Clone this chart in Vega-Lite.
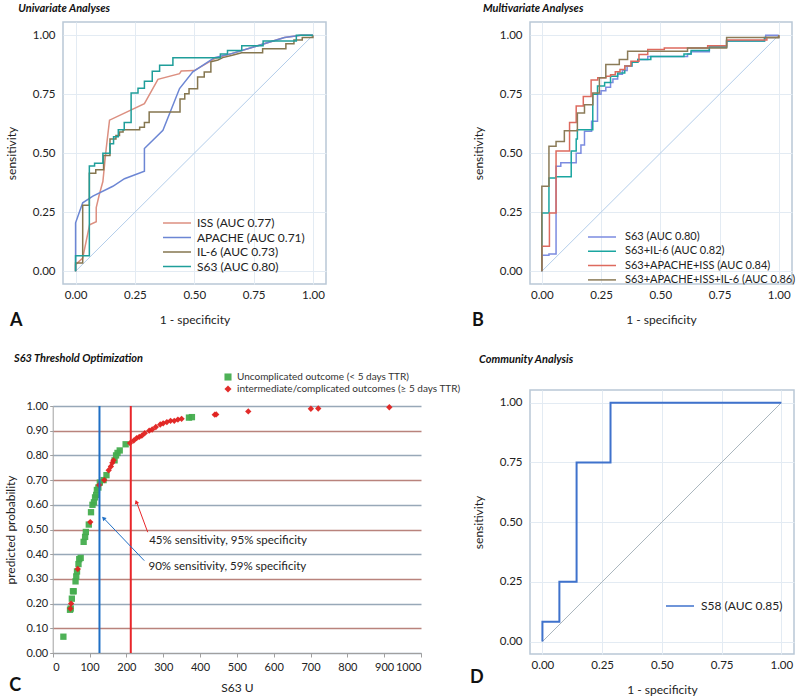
{
  "$schema": "https://vega.github.io/schema/vega-lite/v6.json",
  "padding": {"left": 4, "top": 2, "right": 0, "bottom": 0},
  "config": {
    "font": "Lato",
    "view": {"stroke": "#b9c8d6", "strokeWidth": 1.5},
    "axis": {"labelFont": "Lato", "labelFontSize": 11.5, "labelColor": "#222", "titleFont": "Lato", "titleFontSize": 12, "titleFontWeight": "normal", "titleColor": "#222", "gridColor": "#e3ebf3", "domain": false, "ticks": false},
    "title": {"font": "Lato", "fontSize": 11, "fontWeight": "bold", "fontStyle": "italic", "anchor": "start", "color": "#111", "offset": 8},
    "legend": {"labelFont": "Lato", "labelFontSize": 12, "labelColor": "#222", "labelLimit": 400}
  },
  "datasets": {
    "uni": [
      {"s": "ISS (AUC 0.77)", "x": 0, "y": 0}, {"s": "ISS (AUC 0.77)", "x": 0, "y": 0.028}, {"s": "ISS (AUC 0.77)", "x": 0.03, "y": 0.056}, {"s": "ISS (AUC 0.77)", "x": 0.059, "y": 0.197}, {"s": "ISS (AUC 0.77)", "x": 0.087, "y": 0.21}, {"s": "ISS (AUC 0.77)", "x": 0.087, "y": 0.27}, {"s": "ISS (AUC 0.77)", "x": 0.1, "y": 0.325}, {"s": "ISS (AUC 0.77)", "x": 0.115, "y": 0.38}, {"s": "ISS (AUC 0.77)", "x": 0.122, "y": 0.45}, {"s": "ISS (AUC 0.77)", "x": 0.129, "y": 0.52}, {"s": "ISS (AUC 0.77)", "x": 0.143, "y": 0.64}, {"s": "ISS (AUC 0.77)", "x": 0.29, "y": 0.71}, {"s": "ISS (AUC 0.77)", "x": 0.347, "y": 0.813}, {"s": "ISS (AUC 0.77)", "x": 0.438, "y": 0.837}, {"s": "ISS (AUC 0.77)", "x": 0.445, "y": 0.848}, {"s": "ISS (AUC 0.77)", "x": 0.5, "y": 0.85}, {"s": "ISS (AUC 0.77)", "x": 0.585, "y": 0.9}, {"s": "ISS (AUC 0.77)", "x": 0.65, "y": 0.92}, {"s": "ISS (AUC 0.77)", "x": 0.75, "y": 0.95}, {"s": "ISS (AUC 0.77)", "x": 0.88, "y": 0.99}, {"s": "ISS (AUC 0.77)", "x": 0.95, "y": 1}, {"s": "ISS (AUC 0.77)", "x": 1, "y": 1},
      {"s": "APACHE (AUC 0.71)", "x": 0, "y": 0}, {"s": "APACHE (AUC 0.71)", "x": 0, "y": 0.205}, {"s": "APACHE (AUC 0.71)", "x": 0.03, "y": 0.29}, {"s": "APACHE (AUC 0.71)", "x": 0.073, "y": 0.318}, {"s": "APACHE (AUC 0.71)", "x": 0.157, "y": 0.36}, {"s": "APACHE (AUC 0.71)", "x": 0.206, "y": 0.392}, {"s": "APACHE (AUC 0.71)", "x": 0.29, "y": 0.424}, {"s": "APACHE (AUC 0.71)", "x": 0.29, "y": 0.52}, {"s": "APACHE (AUC 0.71)", "x": 0.368, "y": 0.597}, {"s": "APACHE (AUC 0.71)", "x": 0.438, "y": 0.774}, {"s": "APACHE (AUC 0.71)", "x": 0.494, "y": 0.845}, {"s": "APACHE (AUC 0.71)", "x": 0.585, "y": 0.905}, {"s": "APACHE (AUC 0.71)", "x": 0.65, "y": 0.92}, {"s": "APACHE (AUC 0.71)", "x": 0.75, "y": 0.95}, {"s": "APACHE (AUC 0.71)", "x": 0.88, "y": 0.99}, {"s": "APACHE (AUC 0.71)", "x": 0.95, "y": 1}, {"s": "APACHE (AUC 0.71)", "x": 1, "y": 1},
      {"s": "IL-6 (AUC 0.73)", "x": 0, "y": 0}, {"s": "IL-6 (AUC 0.73)", "x": 0, "y": 0.035}, {"s": "IL-6 (AUC 0.73)", "x": 0.03, "y": 0.035}, {"s": "IL-6 (AUC 0.73)", "x": 0.03, "y": 0.28}, {"s": "IL-6 (AUC 0.73)", "x": 0.058, "y": 0.28}, {"s": "IL-6 (AUC 0.73)", "x": 0.058, "y": 0.415}, {"s": "IL-6 (AUC 0.73)", "x": 0.085, "y": 0.415}, {"s": "IL-6 (AUC 0.73)", "x": 0.085, "y": 0.43}, {"s": "IL-6 (AUC 0.73)", "x": 0.118, "y": 0.43}, {"s": "IL-6 (AUC 0.73)", "x": 0.118, "y": 0.49}, {"s": "IL-6 (AUC 0.73)", "x": 0.145, "y": 0.49}, {"s": "IL-6 (AUC 0.73)", "x": 0.145, "y": 0.56}, {"s": "IL-6 (AUC 0.73)", "x": 0.17, "y": 0.56}, {"s": "IL-6 (AUC 0.73)", "x": 0.17, "y": 0.575}, {"s": "IL-6 (AUC 0.73)", "x": 0.185, "y": 0.575}, {"s": "IL-6 (AUC 0.73)", "x": 0.185, "y": 0.59}, {"s": "IL-6 (AUC 0.73)", "x": 0.2, "y": 0.59}, {"s": "IL-6 (AUC 0.73)", "x": 0.2, "y": 0.6}, {"s": "IL-6 (AUC 0.73)", "x": 0.27, "y": 0.6}, {"s": "IL-6 (AUC 0.73)", "x": 0.27, "y": 0.61}, {"s": "IL-6 (AUC 0.73)", "x": 0.29, "y": 0.61}, {"s": "IL-6 (AUC 0.73)", "x": 0.29, "y": 0.63}, {"s": "IL-6 (AUC 0.73)", "x": 0.31, "y": 0.63}, {"s": "IL-6 (AUC 0.73)", "x": 0.31, "y": 0.675}, {"s": "IL-6 (AUC 0.73)", "x": 0.44, "y": 0.675}, {"s": "IL-6 (AUC 0.73)", "x": 0.44, "y": 0.73}, {"s": "IL-6 (AUC 0.73)", "x": 0.46, "y": 0.73}, {"s": "IL-6 (AUC 0.73)", "x": 0.46, "y": 0.752}, {"s": "IL-6 (AUC 0.73)", "x": 0.478, "y": 0.752}, {"s": "IL-6 (AUC 0.73)", "x": 0.478, "y": 0.773}, {"s": "IL-6 (AUC 0.73)", "x": 0.514, "y": 0.773}, {"s": "IL-6 (AUC 0.73)", "x": 0.514, "y": 0.823}, {"s": "IL-6 (AUC 0.73)", "x": 0.542, "y": 0.823}, {"s": "IL-6 (AUC 0.73)", "x": 0.542, "y": 0.844}, {"s": "IL-6 (AUC 0.73)", "x": 0.57, "y": 0.844}, {"s": "IL-6 (AUC 0.73)", "x": 0.57, "y": 0.887}, {"s": "IL-6 (AUC 0.73)", "x": 0.6, "y": 0.895}, {"s": "IL-6 (AUC 0.73)", "x": 0.62, "y": 0.905}, {"s": "IL-6 (AUC 0.73)", "x": 0.66, "y": 0.915}, {"s": "IL-6 (AUC 0.73)", "x": 0.7, "y": 0.926}, {"s": "IL-6 (AUC 0.73)", "x": 0.788, "y": 0.926}, {"s": "IL-6 (AUC 0.73)", "x": 0.788, "y": 0.943}, {"s": "IL-6 (AUC 0.73)", "x": 0.886, "y": 0.943}, {"s": "IL-6 (AUC 0.73)", "x": 0.886, "y": 0.964}, {"s": "IL-6 (AUC 0.73)", "x": 0.92, "y": 0.964}, {"s": "IL-6 (AUC 0.73)", "x": 0.92, "y": 0.98}, {"s": "IL-6 (AUC 0.73)", "x": 0.955, "y": 0.98}, {"s": "IL-6 (AUC 0.73)", "x": 0.955, "y": 0.99}, {"s": "IL-6 (AUC 0.73)", "x": 1, "y": 0.99}, {"s": "IL-6 (AUC 0.73)", "x": 1, "y": 1},
      {"s": "S63 (AUC 0.80)", "x": 0, "y": 0}, {"s": "S63 (AUC 0.80)", "x": 0, "y": 0.066}, {"s": "S63 (AUC 0.80)", "x": 0.058, "y": 0.066}, {"s": "S63 (AUC 0.80)", "x": 0.058, "y": 0.446}, {"s": "S63 (AUC 0.80)", "x": 0.08, "y": 0.446}, {"s": "S63 (AUC 0.80)", "x": 0.08, "y": 0.458}, {"s": "S63 (AUC 0.80)", "x": 0.115, "y": 0.458}, {"s": "S63 (AUC 0.80)", "x": 0.115, "y": 0.5}, {"s": "S63 (AUC 0.80)", "x": 0.145, "y": 0.5}, {"s": "S63 (AUC 0.80)", "x": 0.145, "y": 0.54}, {"s": "S63 (AUC 0.80)", "x": 0.16, "y": 0.54}, {"s": "S63 (AUC 0.80)", "x": 0.16, "y": 0.57}, {"s": "S63 (AUC 0.80)", "x": 0.18, "y": 0.57}, {"s": "S63 (AUC 0.80)", "x": 0.18, "y": 0.6}, {"s": "S63 (AUC 0.80)", "x": 0.205, "y": 0.6}, {"s": "S63 (AUC 0.80)", "x": 0.205, "y": 0.63}, {"s": "S63 (AUC 0.80)", "x": 0.234, "y": 0.63}, {"s": "S63 (AUC 0.80)", "x": 0.234, "y": 0.755}, {"s": "S63 (AUC 0.80)", "x": 0.263, "y": 0.755}, {"s": "S63 (AUC 0.80)", "x": 0.263, "y": 0.775}, {"s": "S63 (AUC 0.80)", "x": 0.29, "y": 0.775}, {"s": "S63 (AUC 0.80)", "x": 0.29, "y": 0.805}, {"s": "S63 (AUC 0.80)", "x": 0.323, "y": 0.805}, {"s": "S63 (AUC 0.80)", "x": 0.323, "y": 0.847}, {"s": "S63 (AUC 0.80)", "x": 0.354, "y": 0.847}, {"s": "S63 (AUC 0.80)", "x": 0.354, "y": 0.873}, {"s": "S63 (AUC 0.80)", "x": 0.41, "y": 0.873}, {"s": "S63 (AUC 0.80)", "x": 0.41, "y": 0.905}, {"s": "S63 (AUC 0.80)", "x": 0.61, "y": 0.905}, {"s": "S63 (AUC 0.80)", "x": 0.61, "y": 0.92}, {"s": "S63 (AUC 0.80)", "x": 0.64, "y": 0.92}, {"s": "S63 (AUC 0.80)", "x": 0.64, "y": 0.935}, {"s": "S63 (AUC 0.80)", "x": 0.7, "y": 0.935}, {"s": "S63 (AUC 0.80)", "x": 0.7, "y": 0.955}, {"s": "S63 (AUC 0.80)", "x": 0.79, "y": 0.955}, {"s": "S63 (AUC 0.80)", "x": 0.79, "y": 0.975}, {"s": "S63 (AUC 0.80)", "x": 0.93, "y": 0.975}, {"s": "S63 (AUC 0.80)", "x": 0.93, "y": 1}, {"s": "S63 (AUC 0.80)", "x": 1, "y": 1}
    ],
    "multi": [
      {"s": "S63 (AUC 0.80)", "x": 0, "y": 0}, {"s": "S63 (AUC 0.80)", "x": 0, "y": 0.068}, {"s": "S63 (AUC 0.80)", "x": 0.03, "y": 0.068}, {"s": "S63 (AUC 0.80)", "x": 0.03, "y": 0.073}, {"s": "S63 (AUC 0.80)", "x": 0.06, "y": 0.073}, {"s": "S63 (AUC 0.80)", "x": 0.06, "y": 0.445}, {"s": "S63 (AUC 0.80)", "x": 0.08, "y": 0.445}, {"s": "S63 (AUC 0.80)", "x": 0.08, "y": 0.46}, {"s": "S63 (AUC 0.80)", "x": 0.145, "y": 0.46}, {"s": "S63 (AUC 0.80)", "x": 0.145, "y": 0.5}, {"s": "S63 (AUC 0.80)", "x": 0.165, "y": 0.5}, {"s": "S63 (AUC 0.80)", "x": 0.165, "y": 0.535}, {"s": "S63 (AUC 0.80)", "x": 0.18, "y": 0.535}, {"s": "S63 (AUC 0.80)", "x": 0.18, "y": 0.593}, {"s": "S63 (AUC 0.80)", "x": 0.21, "y": 0.593}, {"s": "S63 (AUC 0.80)", "x": 0.21, "y": 0.635}, {"s": "S63 (AUC 0.80)", "x": 0.235, "y": 0.635}, {"s": "S63 (AUC 0.80)", "x": 0.235, "y": 0.75}, {"s": "S63 (AUC 0.80)", "x": 0.25, "y": 0.75}, {"s": "S63 (AUC 0.80)", "x": 0.25, "y": 0.765}, {"s": "S63 (AUC 0.80)", "x": 0.27, "y": 0.765}, {"s": "S63 (AUC 0.80)", "x": 0.27, "y": 0.78}, {"s": "S63 (AUC 0.80)", "x": 0.29, "y": 0.78}, {"s": "S63 (AUC 0.80)", "x": 0.29, "y": 0.8}, {"s": "S63 (AUC 0.80)", "x": 0.3, "y": 0.8}, {"s": "S63 (AUC 0.80)", "x": 0.3, "y": 0.815}, {"s": "S63 (AUC 0.80)", "x": 0.32, "y": 0.815}, {"s": "S63 (AUC 0.80)", "x": 0.32, "y": 0.835}, {"s": "S63 (AUC 0.80)", "x": 0.34, "y": 0.835}, {"s": "S63 (AUC 0.80)", "x": 0.34, "y": 0.85}, {"s": "S63 (AUC 0.80)", "x": 0.36, "y": 0.85}, {"s": "S63 (AUC 0.80)", "x": 0.36, "y": 0.87}, {"s": "S63 (AUC 0.80)", "x": 0.38, "y": 0.87}, {"s": "S63 (AUC 0.80)", "x": 0.38, "y": 0.885}, {"s": "S63 (AUC 0.80)", "x": 0.405, "y": 0.885}, {"s": "S63 (AUC 0.80)", "x": 0.405, "y": 0.897}, {"s": "S63 (AUC 0.80)", "x": 0.447, "y": 0.897}, {"s": "S63 (AUC 0.80)", "x": 0.447, "y": 0.91}, {"s": "S63 (AUC 0.80)", "x": 0.615, "y": 0.91}, {"s": "S63 (AUC 0.80)", "x": 0.615, "y": 0.92}, {"s": "S63 (AUC 0.80)", "x": 0.63, "y": 0.92}, {"s": "S63 (AUC 0.80)", "x": 0.63, "y": 0.93}, {"s": "S63 (AUC 0.80)", "x": 0.707, "y": 0.93}, {"s": "S63 (AUC 0.80)", "x": 0.707, "y": 0.95}, {"s": "S63 (AUC 0.80)", "x": 0.78, "y": 0.95}, {"s": "S63 (AUC 0.80)", "x": 0.78, "y": 0.975}, {"s": "S63 (AUC 0.80)", "x": 0.94, "y": 0.975}, {"s": "S63 (AUC 0.80)", "x": 0.94, "y": 0.985}, {"s": "S63 (AUC 0.80)", "x": 0.945, "y": 0.985}, {"s": "S63 (AUC 0.80)", "x": 0.945, "y": 1}, {"s": "S63 (AUC 0.80)", "x": 1, "y": 1},
      {"s": "S63+IL-6 (AUC 0.82)", "x": 0, "y": 0}, {"s": "S63+IL-6 (AUC 0.82)", "x": 0, "y": 0.247}, {"s": "S63+IL-6 (AUC 0.82)", "x": 0.03, "y": 0.247}, {"s": "S63+IL-6 (AUC 0.82)", "x": 0.03, "y": 0.395}, {"s": "S63+IL-6 (AUC 0.82)", "x": 0.06, "y": 0.395}, {"s": "S63+IL-6 (AUC 0.82)", "x": 0.06, "y": 0.4}, {"s": "S63+IL-6 (AUC 0.82)", "x": 0.124, "y": 0.4}, {"s": "S63+IL-6 (AUC 0.82)", "x": 0.124, "y": 0.51}, {"s": "S63+IL-6 (AUC 0.82)", "x": 0.145, "y": 0.51}, {"s": "S63+IL-6 (AUC 0.82)", "x": 0.145, "y": 0.56}, {"s": "S63+IL-6 (AUC 0.82)", "x": 0.15, "y": 0.56}, {"s": "S63+IL-6 (AUC 0.82)", "x": 0.15, "y": 0.6}, {"s": "S63+IL-6 (AUC 0.82)", "x": 0.215, "y": 0.6}, {"s": "S63+IL-6 (AUC 0.82)", "x": 0.215, "y": 0.75}, {"s": "S63+IL-6 (AUC 0.82)", "x": 0.235, "y": 0.75}, {"s": "S63+IL-6 (AUC 0.82)", "x": 0.235, "y": 0.785}, {"s": "S63+IL-6 (AUC 0.82)", "x": 0.265, "y": 0.785}, {"s": "S63+IL-6 (AUC 0.82)", "x": 0.265, "y": 0.8}, {"s": "S63+IL-6 (AUC 0.82)", "x": 0.29, "y": 0.8}, {"s": "S63+IL-6 (AUC 0.82)", "x": 0.29, "y": 0.826}, {"s": "S63+IL-6 (AUC 0.82)", "x": 0.32, "y": 0.826}, {"s": "S63+IL-6 (AUC 0.82)", "x": 0.32, "y": 0.84}, {"s": "S63+IL-6 (AUC 0.82)", "x": 0.35, "y": 0.84}, {"s": "S63+IL-6 (AUC 0.82)", "x": 0.35, "y": 0.87}, {"s": "S63+IL-6 (AUC 0.82)", "x": 0.38, "y": 0.87}, {"s": "S63+IL-6 (AUC 0.82)", "x": 0.38, "y": 0.885}, {"s": "S63+IL-6 (AUC 0.82)", "x": 0.405, "y": 0.885}, {"s": "S63+IL-6 (AUC 0.82)", "x": 0.405, "y": 0.897}, {"s": "S63+IL-6 (AUC 0.82)", "x": 0.46, "y": 0.897}, {"s": "S63+IL-6 (AUC 0.82)", "x": 0.46, "y": 0.91}, {"s": "S63+IL-6 (AUC 0.82)", "x": 0.6, "y": 0.91}, {"s": "S63+IL-6 (AUC 0.82)", "x": 0.6, "y": 0.92}, {"s": "S63+IL-6 (AUC 0.82)", "x": 0.63, "y": 0.92}, {"s": "S63+IL-6 (AUC 0.82)", "x": 0.63, "y": 0.935}, {"s": "S63+IL-6 (AUC 0.82)", "x": 0.707, "y": 0.935}, {"s": "S63+IL-6 (AUC 0.82)", "x": 0.707, "y": 0.95}, {"s": "S63+IL-6 (AUC 0.82)", "x": 0.78, "y": 0.95}, {"s": "S63+IL-6 (AUC 0.82)", "x": 0.78, "y": 0.975}, {"s": "S63+IL-6 (AUC 0.82)", "x": 0.94, "y": 0.975}, {"s": "S63+IL-6 (AUC 0.82)", "x": 0.94, "y": 0.99}, {"s": "S63+IL-6 (AUC 0.82)", "x": 1, "y": 0.99}, {"s": "S63+IL-6 (AUC 0.82)", "x": 1, "y": 1},
      {"s": "S63+APACHE+ISS (AUC 0.84)", "x": 0, "y": 0}, {"s": "S63+APACHE+ISS (AUC 0.84)", "x": 0, "y": 0.106}, {"s": "S63+APACHE+ISS (AUC 0.84)", "x": 0.032, "y": 0.106}, {"s": "S63+APACHE+ISS (AUC 0.84)", "x": 0.032, "y": 0.247}, {"s": "S63+APACHE+ISS (AUC 0.84)", "x": 0.06, "y": 0.247}, {"s": "S63+APACHE+ISS (AUC 0.84)", "x": 0.06, "y": 0.51}, {"s": "S63+APACHE+ISS (AUC 0.84)", "x": 0.117, "y": 0.51}, {"s": "S63+APACHE+ISS (AUC 0.84)", "x": 0.117, "y": 0.63}, {"s": "S63+APACHE+ISS (AUC 0.84)", "x": 0.145, "y": 0.63}, {"s": "S63+APACHE+ISS (AUC 0.84)", "x": 0.145, "y": 0.7}, {"s": "S63+APACHE+ISS (AUC 0.84)", "x": 0.175, "y": 0.7}, {"s": "S63+APACHE+ISS (AUC 0.84)", "x": 0.175, "y": 0.74}, {"s": "S63+APACHE+ISS (AUC 0.84)", "x": 0.208, "y": 0.74}, {"s": "S63+APACHE+ISS (AUC 0.84)", "x": 0.208, "y": 0.81}, {"s": "S63+APACHE+ISS (AUC 0.84)", "x": 0.236, "y": 0.81}, {"s": "S63+APACHE+ISS (AUC 0.84)", "x": 0.236, "y": 0.82}, {"s": "S63+APACHE+ISS (AUC 0.84)", "x": 0.27, "y": 0.82}, {"s": "S63+APACHE+ISS (AUC 0.84)", "x": 0.27, "y": 0.826}, {"s": "S63+APACHE+ISS (AUC 0.84)", "x": 0.29, "y": 0.826}, {"s": "S63+APACHE+ISS (AUC 0.84)", "x": 0.29, "y": 0.833}, {"s": "S63+APACHE+ISS (AUC 0.84)", "x": 0.31, "y": 0.833}, {"s": "S63+APACHE+ISS (AUC 0.84)", "x": 0.31, "y": 0.845}, {"s": "S63+APACHE+ISS (AUC 0.84)", "x": 0.33, "y": 0.845}, {"s": "S63+APACHE+ISS (AUC 0.84)", "x": 0.33, "y": 0.855}, {"s": "S63+APACHE+ISS (AUC 0.84)", "x": 0.35, "y": 0.855}, {"s": "S63+APACHE+ISS (AUC 0.84)", "x": 0.35, "y": 0.87}, {"s": "S63+APACHE+ISS (AUC 0.84)", "x": 0.376, "y": 0.87}, {"s": "S63+APACHE+ISS (AUC 0.84)", "x": 0.376, "y": 0.89}, {"s": "S63+APACHE+ISS (AUC 0.84)", "x": 0.41, "y": 0.89}, {"s": "S63+APACHE+ISS (AUC 0.84)", "x": 0.41, "y": 0.918}, {"s": "S63+APACHE+ISS (AUC 0.84)", "x": 0.447, "y": 0.918}, {"s": "S63+APACHE+ISS (AUC 0.84)", "x": 0.447, "y": 0.94}, {"s": "S63+APACHE+ISS (AUC 0.84)", "x": 0.517, "y": 0.94}, {"s": "S63+APACHE+ISS (AUC 0.84)", "x": 0.517, "y": 0.946}, {"s": "S63+APACHE+ISS (AUC 0.84)", "x": 0.7, "y": 0.946}, {"s": "S63+APACHE+ISS (AUC 0.84)", "x": 0.7, "y": 0.955}, {"s": "S63+APACHE+ISS (AUC 0.84)", "x": 0.78, "y": 0.955}, {"s": "S63+APACHE+ISS (AUC 0.84)", "x": 0.78, "y": 0.98}, {"s": "S63+APACHE+ISS (AUC 0.84)", "x": 0.95, "y": 0.98}, {"s": "S63+APACHE+ISS (AUC 0.84)", "x": 0.95, "y": 0.99}, {"s": "S63+APACHE+ISS (AUC 0.84)", "x": 1, "y": 0.99}, {"s": "S63+APACHE+ISS (AUC 0.84)", "x": 1, "y": 1},
      {"s": "S63+APACHE+ISS+IL-6 (AUC 0.86)", "x": 0, "y": 0}, {"s": "S63+APACHE+ISS+IL-6 (AUC 0.86)", "x": 0, "y": 0.36}, {"s": "S63+APACHE+ISS+IL-6 (AUC 0.86)", "x": 0.03, "y": 0.36}, {"s": "S63+APACHE+ISS+IL-6 (AUC 0.86)", "x": 0.03, "y": 0.53}, {"s": "S63+APACHE+ISS+IL-6 (AUC 0.86)", "x": 0.06, "y": 0.53}, {"s": "S63+APACHE+ISS+IL-6 (AUC 0.86)", "x": 0.06, "y": 0.55}, {"s": "S63+APACHE+ISS+IL-6 (AUC 0.86)", "x": 0.095, "y": 0.55}, {"s": "S63+APACHE+ISS+IL-6 (AUC 0.86)", "x": 0.095, "y": 0.595}, {"s": "S63+APACHE+ISS+IL-6 (AUC 0.86)", "x": 0.15, "y": 0.595}, {"s": "S63+APACHE+ISS+IL-6 (AUC 0.86)", "x": 0.15, "y": 0.67}, {"s": "S63+APACHE+ISS+IL-6 (AUC 0.86)", "x": 0.18, "y": 0.67}, {"s": "S63+APACHE+ISS+IL-6 (AUC 0.86)", "x": 0.18, "y": 0.705}, {"s": "S63+APACHE+ISS+IL-6 (AUC 0.86)", "x": 0.215, "y": 0.705}, {"s": "S63+APACHE+ISS+IL-6 (AUC 0.86)", "x": 0.215, "y": 0.755}, {"s": "S63+APACHE+ISS+IL-6 (AUC 0.86)", "x": 0.243, "y": 0.755}, {"s": "S63+APACHE+ISS+IL-6 (AUC 0.86)", "x": 0.243, "y": 0.82}, {"s": "S63+APACHE+ISS+IL-6 (AUC 0.86)", "x": 0.27, "y": 0.82}, {"s": "S63+APACHE+ISS+IL-6 (AUC 0.86)", "x": 0.27, "y": 0.876}, {"s": "S63+APACHE+ISS+IL-6 (AUC 0.86)", "x": 0.327, "y": 0.876}, {"s": "S63+APACHE+ISS+IL-6 (AUC 0.86)", "x": 0.327, "y": 0.897}, {"s": "S63+APACHE+ISS+IL-6 (AUC 0.86)", "x": 0.362, "y": 0.897}, {"s": "S63+APACHE+ISS+IL-6 (AUC 0.86)", "x": 0.362, "y": 0.932}, {"s": "S63+APACHE+ISS+IL-6 (AUC 0.86)", "x": 0.615, "y": 0.932}, {"s": "S63+APACHE+ISS+IL-6 (AUC 0.86)", "x": 0.615, "y": 0.946}, {"s": "S63+APACHE+ISS+IL-6 (AUC 0.86)", "x": 0.78, "y": 0.946}, {"s": "S63+APACHE+ISS+IL-6 (AUC 0.86)", "x": 0.78, "y": 0.99}, {"s": "S63+APACHE+ISS+IL-6 (AUC 0.86)", "x": 1, "y": 0.99}, {"s": "S63+APACHE+ISS+IL-6 (AUC 0.86)", "x": 1, "y": 1}
    ],
    "comm": [
      {"s": "S58 (AUC 0.85)", "x": 0, "y": 0}, {"s": "S58 (AUC 0.85)", "x": 0, "y": 0.083}, {"s": "S58 (AUC 0.85)", "x": 0.071, "y": 0.083}, {"s": "S58 (AUC 0.85)", "x": 0.071, "y": 0.25}, {"s": "S58 (AUC 0.85)", "x": 0.143, "y": 0.25}, {"s": "S58 (AUC 0.85)", "x": 0.143, "y": 0.75}, {"s": "S58 (AUC 0.85)", "x": 0.285, "y": 0.75}, {"s": "S58 (AUC 0.85)", "x": 0.285, "y": 1}, {"s": "S58 (AUC 0.85)", "x": 1, "y": 1}
    ],
    "pts": [
      {"g": "Uncomplicated outcome (< 5 days TTR)", "u": 29, "p": 0.066}, {"g": "Uncomplicated outcome (< 5 days TTR)", "u": 47, "p": 0.175}, {"g": "Uncomplicated outcome (< 5 days TTR)", "u": 49, "p": 0.18}, {"g": "Uncomplicated outcome (< 5 days TTR)", "u": 52, "p": 0.22}, {"g": "Uncomplicated outcome (< 5 days TTR)", "u": 55, "p": 0.25}, {"g": "Uncomplicated outcome (< 5 days TTR)", "u": 57, "p": 0.25}, {"g": "Uncomplicated outcome (< 5 days TTR)", "u": 62, "p": 0.29}, {"g": "Uncomplicated outcome (< 5 days TTR)", "u": 64, "p": 0.31}, {"g": "Uncomplicated outcome (< 5 days TTR)", "u": 66, "p": 0.33}, {"g": "Uncomplicated outcome (< 5 days TTR)", "u": 70, "p": 0.36}, {"g": "Uncomplicated outcome (< 5 days TTR)", "u": 72, "p": 0.38}, {"g": "Uncomplicated outcome (< 5 days TTR)", "u": 76, "p": 0.385}, {"g": "Uncomplicated outcome (< 5 days TTR)", "u": 84, "p": 0.45}, {"g": "Uncomplicated outcome (< 5 days TTR)", "u": 88, "p": 0.47}, {"g": "Uncomplicated outcome (< 5 days TTR)", "u": 90, "p": 0.49}, {"g": "Uncomplicated outcome (< 5 days TTR)", "u": 98, "p": 0.52}, {"g": "Uncomplicated outcome (< 5 days TTR)", "u": 104, "p": 0.57}, {"g": "Uncomplicated outcome (< 5 days TTR)", "u": 108, "p": 0.6}, {"g": "Uncomplicated outcome (< 5 days TTR)", "u": 112, "p": 0.61}, {"g": "Uncomplicated outcome (< 5 days TTR)", "u": 115, "p": 0.63}, {"g": "Uncomplicated outcome (< 5 days TTR)", "u": 118, "p": 0.64}, {"g": "Uncomplicated outcome (< 5 days TTR)", "u": 120, "p": 0.66}, {"g": "Uncomplicated outcome (< 5 days TTR)", "u": 124, "p": 0.67}, {"g": "Uncomplicated outcome (< 5 days TTR)", "u": 128, "p": 0.69}, {"g": "Uncomplicated outcome (< 5 days TTR)", "u": 138, "p": 0.7}, {"g": "Uncomplicated outcome (< 5 days TTR)", "u": 146, "p": 0.72}, {"g": "Uncomplicated outcome (< 5 days TTR)", "u": 168, "p": 0.78}, {"g": "Uncomplicated outcome (< 5 days TTR)", "u": 172, "p": 0.8}, {"g": "Uncomplicated outcome (< 5 days TTR)", "u": 176, "p": 0.81}, {"g": "Uncomplicated outcome (< 5 days TTR)", "u": 182, "p": 0.82}, {"g": "Uncomplicated outcome (< 5 days TTR)", "u": 198, "p": 0.845}, {"g": "Uncomplicated outcome (< 5 days TTR)", "u": 370, "p": 0.953}, {"g": "Uncomplicated outcome (< 5 days TTR)", "u": 378, "p": 0.955},
      {"g": "intermediate/complicated outcomes (≥ 5 days TTR)", "u": 48, "p": 0.18}, {"g": "intermediate/complicated outcomes (≥ 5 days TTR)", "u": 50, "p": 0.2}, {"g": "intermediate/complicated outcomes (≥ 5 days TTR)", "u": 68, "p": 0.34}, {"g": "intermediate/complicated outcomes (≥ 5 days TTR)", "u": 102, "p": 0.53}, {"g": "intermediate/complicated outcomes (≥ 5 days TTR)", "u": 126, "p": 0.68}, {"g": "intermediate/complicated outcomes (≥ 5 days TTR)", "u": 140, "p": 0.7}, {"g": "intermediate/complicated outcomes (≥ 5 days TTR)", "u": 152, "p": 0.74}, {"g": "intermediate/complicated outcomes (≥ 5 days TTR)", "u": 158, "p": 0.755}, {"g": "intermediate/complicated outcomes (≥ 5 days TTR)", "u": 162, "p": 0.77}, {"g": "intermediate/complicated outcomes (≥ 5 days TTR)", "u": 165, "p": 0.78}, {"g": "intermediate/complicated outcomes (≥ 5 days TTR)", "u": 210, "p": 0.85}, {"g": "intermediate/complicated outcomes (≥ 5 days TTR)", "u": 220, "p": 0.86}, {"g": "intermediate/complicated outcomes (≥ 5 days TTR)", "u": 228, "p": 0.87}, {"g": "intermediate/complicated outcomes (≥ 5 days TTR)", "u": 235, "p": 0.875}, {"g": "intermediate/complicated outcomes (≥ 5 days TTR)", "u": 242, "p": 0.88}, {"g": "intermediate/complicated outcomes (≥ 5 days TTR)", "u": 250, "p": 0.89}, {"g": "intermediate/complicated outcomes (≥ 5 days TTR)", "u": 262, "p": 0.9}, {"g": "intermediate/complicated outcomes (≥ 5 days TTR)", "u": 270, "p": 0.905}, {"g": "intermediate/complicated outcomes (≥ 5 days TTR)", "u": 280, "p": 0.915}, {"g": "intermediate/complicated outcomes (≥ 5 days TTR)", "u": 292, "p": 0.925}, {"g": "intermediate/complicated outcomes (≥ 5 days TTR)", "u": 300, "p": 0.93}, {"g": "intermediate/complicated outcomes (≥ 5 days TTR)", "u": 310, "p": 0.935}, {"g": "intermediate/complicated outcomes (≥ 5 days TTR)", "u": 320, "p": 0.94}, {"g": "intermediate/complicated outcomes (≥ 5 days TTR)", "u": 330, "p": 0.94}, {"g": "intermediate/complicated outcomes (≥ 5 days TTR)", "u": 340, "p": 0.945}, {"g": "intermediate/complicated outcomes (≥ 5 days TTR)", "u": 350, "p": 0.948}, {"g": "intermediate/complicated outcomes (≥ 5 days TTR)", "u": 440, "p": 0.965}, {"g": "intermediate/complicated outcomes (≥ 5 days TTR)", "u": 444, "p": 0.966}, {"g": "intermediate/complicated outcomes (≥ 5 days TTR)", "u": 531, "p": 0.978}, {"g": "intermediate/complicated outcomes (≥ 5 days TTR)", "u": 701, "p": 0.989}, {"g": "intermediate/complicated outcomes (≥ 5 days TTR)", "u": 721, "p": 0.99}, {"g": "intermediate/complicated outcomes (≥ 5 days TTR)", "u": 914, "p": 0.995}
    ]
  },
  "columns": 2,
  "align": {"row": "none", "column": "each"},
  "spacing": {"row": 22, "column": 8},
  "concat": [
    {
      "width": 263, "height": 262,
      "title": {"text": "Univariate Analyses", "dx": 13},
      "layer": [
        {"data": {"values": [{}]}, "mark": {"type": "rule", "color": "#b3cdea", "strokeWidth": 1},
         "encoding": {"x": {"datum": 0, "type": "quantitative", "scale": {"domain": [-0.053, 1.055], "nice": false, "zero": false}, "title": "1 - specificity"}, "y": {"datum": 0, "type": "quantitative", "scale": {"domain": [-0.054, 1.056], "nice": false, "zero": false}, "title": "sensitivity"}, "x2": {"datum": 1}, "y2": {"datum": 1}}},
        {"data": {"name": "uni"}, "mark": {"type": "line", "strokeWidth": 1.5},
         "encoding": {
           "x": {"field": "x", "type": "quantitative", "scale": {"domain": [-0.053, 1.055], "nice": false, "zero": false}, "title": "1 - specificity", "axis": {"values": [0, 0.25, 0.5, 0.75, 1], "format": ".2f", "grid": true, "labelPadding": 5, "titlePadding": 14}},
           "y": {"field": "y", "type": "quantitative", "scale": {"domain": [-0.054, 1.056], "nice": false, "zero": false}, "title": "sensitivity", "axis": {"values": [0, 0.25, 0.5, 0.75, 1], "format": ".2f", "grid": true, "labelPadding": 8, "titlePadding": 14}},
           "color": {"field": "s", "type": "nominal", "scale": {"domain": ["ISS (AUC 0.77)", "APACHE (AUC 0.71)", "IL-6 (AUC 0.73)", "S63 (AUC 0.80)"], "range": ["#dc8f80", "#6c86d4", "#85764f", "#1f9e9a"]}, "legend": {"title": null, "orient": "none", "legendX": 99, "legendY": 195, "symbolType": "stroke", "symbolSize": 784, "symbolStrokeWidth": 1.5, "clipHeight": 12, "rowPadding": 2.5, "labelOffset": 5}},
           "order": [{"field": "x"}, {"field": "y"}]
         }},
        {"data": {"values": [{"t": "A"}]}, "mark": {"type": "text", "fontSize": 18, "fontWeight": "bold", "color": "#111"},
         "encoding": {"x": {"datum": -0.25, "type": "quantitative", "scale": {"domain": [-0.053, 1.055], "nice": false, "zero": false}, "title": "1 - specificity"}, "y": {"datum": -0.21, "type": "quantitative", "scale": {"domain": [-0.054, 1.056], "nice": false, "zero": false}, "title": "sensitivity"}, "text": {"field": "t"}}}
      ]
    },
    {
      "width": 262, "height": 262,
      "title": {"text": "Multivariate Analyses", "dx": 11},
      "layer": [
        {"data": {"values": [{}]}, "mark": {"type": "rule", "color": "#b3cdea", "strokeWidth": 1},
         "encoding": {"x": {"datum": 0, "type": "quantitative", "scale": {"domain": [-0.05, 1.056], "nice": false, "zero": false}, "title": "1 - specificity"}, "y": {"datum": 0, "type": "quantitative", "scale": {"domain": [-0.054, 1.056], "nice": false, "zero": false}, "title": "sensitivity"}, "x2": {"datum": 1}, "y2": {"datum": 1}}},
        {"data": {"name": "multi"}, "mark": {"type": "line", "strokeWidth": 1.5},
         "encoding": {
           "x": {"field": "x", "type": "quantitative", "scale": {"domain": [-0.05, 1.056], "nice": false, "zero": false}, "title": "1 - specificity", "axis": {"values": [0, 0.25, 0.5, 0.75, 1], "format": ".2f", "grid": true, "labelPadding": 5, "titlePadding": 14}},
           "y": {"field": "y", "type": "quantitative", "scale": {"domain": [-0.054, 1.056], "nice": false, "zero": false}, "title": "sensitivity", "axis": {"values": [0, 0.25, 0.5, 0.75, 1], "format": ".2f", "grid": true, "labelPadding": 8, "titlePadding": 14}},
           "color": {"field": "s", "type": "nominal", "scale": {"domain": ["S63 (AUC 0.80)", "S63+IL-6 (AUC 0.82)", "S63+APACHE+ISS (AUC 0.84)", "S63+APACHE+ISS+IL-6 (AUC 0.86)"], "range": ["#7b8be0", "#1aa5a0", "#dd6a5e", "#8b7b58"]}, "legend": {"title": null, "orient": "none", "legendX": 57, "legendY": 209, "labelFontSize": 11, "symbolType": "stroke", "symbolSize": 784, "symbolStrokeWidth": 1.5, "clipHeight": 12, "rowPadding": 2.3, "labelOffset": 8}},
           "order": [{"field": "x"}, {"field": "y"}]
         }},
        {"data": {"values": [{"t": "B"}]}, "mark": {"type": "text", "fontSize": 18, "fontWeight": "bold", "color": "#111"},
         "encoding": {"x": {"datum": -0.27, "type": "quantitative", "scale": {"domain": [-0.05, 1.056], "nice": false, "zero": false}, "title": "1 - specificity"}, "y": {"datum": -0.21, "type": "quantitative", "scale": {"domain": [-0.054, 1.056], "nice": false, "zero": false}, "title": "sensitivity"}, "text": {"field": "t"}}}
      ]
    },
    {
      "width": 358, "height": 247,
      "view": {"stroke": null},
      "title": {"text": "S63 Threshold Optimization", "dx": 9},
      "layer": [
        {"data": {"name": "pts"}, "mark": {"type": "point", "filled": true, "opacity": 0.95, "size": 40},
         "encoding": {
           "x": {"field": "u", "type": "quantitative", "scale": {"domain": [0, 1000], "nice": false, "range": [-10.3, 358]}, "title": "S63 U", "axis": {"values": [0, 100, 200, 300, 400, 500, 600, 700, 800, 900, 1000], "tickCount": 11, "labelOverlap": false, "labelFontSize": 11, "format": "d", "grid": false, "domain": true, "domainColor": "#a0a0a0", "ticks": true, "tickSize": 4, "tickColor": "#a0a0a0", "labelPadding": 4, "titlePadding": 10}},
           "y": {"field": "p", "type": "quantitative", "scale": {"domain": [0, 1], "nice": false}, "title": "predicted probability", "axis": {"values": [0, 0.1, 0.2, 0.3, 0.4, 0.5, 0.6, 0.7, 0.8, 0.9, 1], "tickCount": 11, "labelOverlap": false, "labelFontSize": 11, "format": ".2f", "offset": 10.3, "grid": true, "gridWidth": 1.5, "gridColor": {"condition": {"test": "round(datum.value*10) % 2 == 1", "value": "#b9837c"}, "value": "#98a8b8"}, "domain": true, "domainColor": "#a0a0a0", "ticks": true, "tickSize": 3, "tickColor": "#a0a0a0", "labelPadding": 2, "titlePadding": 8}},
           "color": {"field": "g", "type": "nominal", "scale": {"domain": ["Uncomplicated outcome (< 5 days TTR)", "intermediate/complicated outcomes (≥ 5 days TTR)"], "range": ["#45ad4e", "#e0211f"]}, "legend": {"title": null, "orient": "none", "legendX": 160, "legendY": -34, "labelFontSize": 10, "labelColor": "#333", "symbolSize": 50, "rowPadding": 2}},
           "shape": {"field": "g", "type": "nominal", "scale": {"domain": ["Uncomplicated outcome (< 5 days TTR)", "intermediate/complicated outcomes (≥ 5 days TTR)"], "range": ["square", "diamond"]}, "legend": {"title": null, "orient": "none", "legendX": 160, "legendY": -34, "labelFontSize": 10, "labelColor": "#333", "symbolSize": 50, "rowPadding": 2}}
         }},
        {"data": {"values": [{}]}, "mark": {"type": "rule", "color": "#1f6fc5", "strokeWidth": 2},
         "encoding": {"x": {"datum": 127, "type": "quantitative", "scale": {"domain": [0, 1000], "nice": false, "range": [-10.3, 358]}, "title": "S63 U"}}},
        {"data": {"values": [{}]}, "mark": {"type": "rule", "color": "#e8262a", "strokeWidth": 2},
         "encoding": {"x": {"datum": 212, "type": "quantitative", "scale": {"domain": [0, 1000], "nice": false, "range": [-10.3, 358]}, "title": "S63 U"}}},
        {"data": {"values": [{}]}, "mark": {"type": "rule", "color": "#e8262a", "strokeWidth": 1},
         "encoding": {"x": {"datum": 258, "type": "quantitative", "scale": {"domain": [0, 1000], "nice": false, "range": [-10.3, 358]}, "title": "S63 U"}, "y": {"datum": 0.489, "type": "quantitative", "scale": {"domain": [0, 1], "nice": false}, "title": "predicted probability"}, "x2": {"datum": 227}, "y2": {"datum": 0.614}}},
        {"data": {"values": [{}]}, "mark": {"type": "point", "shape": "triangle-up", "filled": true, "color": "#e8262a", "size": 22, "angle": 340, "opacity": 1},
         "encoding": {"x": {"datum": 227, "type": "quantitative", "scale": {"domain": [0, 1000], "nice": false, "range": [-10.3, 358]}, "title": "S63 U"}, "y": {"datum": 0.612, "type": "quantitative", "scale": {"domain": [0, 1], "nice": false}, "title": "predicted probability"}}},
        {"data": {"values": [{}]}, "mark": {"type": "rule", "color": "#1f6fc5", "strokeWidth": 1},
         "encoding": {"x": {"datum": 248.6, "type": "quantitative", "scale": {"domain": [0, 1000], "nice": false, "range": [-10.3, 358]}, "title": "S63 U"}, "y": {"datum": 0.374, "type": "quantitative", "scale": {"domain": [0, 1], "nice": false}, "title": "predicted probability"}, "x2": {"datum": 137}, "y2": {"datum": 0.548}}},
        {"data": {"values": [{}]}, "mark": {"type": "point", "shape": "triangle-up", "filled": true, "color": "#1f6fc5", "size": 22, "angle": 316, "opacity": 1},
         "encoding": {"x": {"datum": 138, "type": "quantitative", "scale": {"domain": [0, 1000], "nice": false, "range": [-10.3, 358]}, "title": "S63 U"}, "y": {"datum": 0.546, "type": "quantitative", "scale": {"domain": [0, 1], "nice": false}, "title": "predicted probability"}}},
        {"data": {"values": [{"t": "45% sensitivity, 95% specificity", "u": 262, "p": 0.455}, {"t": "90% sensitivity, 59% specificity", "u": 260, "p": 0.347}]}, "mark": {"type": "text", "align": "left", "baseline": "middle", "fontSize": 11.5, "color": "#222"},
         "encoding": {"x": {"field": "u", "type": "quantitative", "scale": {"domain": [0, 1000], "nice": false, "range": [-10.3, 358]}, "title": "S63 U", "axis": {"values": [0, 100, 200, 300, 400, 500, 600, 700, 800, 900, 1000], "tickCount": 11, "labelOverlap": false, "labelFontSize": 11, "format": "d", "grid": false, "domain": true, "domainColor": "#a0a0a0", "ticks": true, "tickSize": 4, "tickColor": "#a0a0a0", "labelPadding": 4, "titlePadding": 10}}, "y": {"field": "p", "type": "quantitative", "scale": {"domain": [0, 1], "nice": false}, "title": "predicted probability", "axis": {"values": [0, 0.1, 0.2, 0.3, 0.4, 0.5, 0.6, 0.7, 0.8, 0.9, 1], "tickCount": 11, "labelOverlap": false, "labelFontSize": 11, "format": ".2f", "offset": 10.3, "grid": true, "gridWidth": 1.5, "gridColor": {"condition": {"test": "round(datum.value*10) % 2 == 1", "value": "#b9837c"}, "value": "#98a8b8"}, "domain": true, "domainColor": "#a0a0a0", "ticks": true, "tickSize": 3, "tickColor": "#a0a0a0", "labelPadding": 2, "titlePadding": 8}}, "text": {"field": "t"}}},
        {"data": {"values": [{"t": "C"}]}, "mark": {"type": "text", "fontSize": 18, "fontWeight": "bold", "color": "#111"},
         "encoding": {"x": {"datum": -102, "type": "quantitative", "scale": {"domain": [0, 1000], "nice": false, "range": [-10.3, 358]}, "title": "S63 U"}, "y": {"datum": -0.133, "type": "quantitative", "scale": {"domain": [0, 1], "nice": false}, "title": "predicted probability"}, "text": {"field": "t"}}}
      ]
    },
    {
      "width": 264, "height": 264,
      "title": {"text": "Community Analysis", "dx": 9, "offset": 25},
      "layer": [
        {"data": {"values": [{}]}, "mark": {"type": "rule", "color": "#aab6be", "strokeWidth": 1},
         "encoding": {"x": {"datum": 0, "type": "quantitative", "scale": {"domain": [-0.052, 1.053], "nice": false, "zero": false}, "title": "1 - specificity"}, "y": {"datum": 0, "type": "quantitative", "scale": {"domain": [-0.052, 1.053], "nice": false, "zero": false}, "title": "sensitivity"}, "x2": {"datum": 1}, "y2": {"datum": 1}}},
        {"data": {"name": "comm"}, "mark": {"type": "line", "strokeWidth": 2},
         "encoding": {
           "x": {"field": "x", "type": "quantitative", "scale": {"domain": [-0.052, 1.053], "nice": false, "zero": false}, "title": "1 - specificity", "axis": {"values": [0, 0.25, 0.5, 0.75, 1], "format": ".2f", "grid": true, "labelPadding": 5, "titlePadding": 14}},
           "y": {"field": "y", "type": "quantitative", "scale": {"domain": [-0.052, 1.053], "nice": false, "zero": false}, "title": "sensitivity", "axis": {"values": [0, 0.25, 0.5, 0.75, 1], "format": ".2f", "grid": true, "labelPadding": 8, "titlePadding": 14}},
           "color": {"field": "s", "type": "nominal", "scale": {"domain": ["S58 (AUC 0.85)"], "range": ["#3f72cc"]}, "legend": {"title": null, "orient": "none", "legendX": 135, "legendY": 210, "symbolType": "stroke", "symbolSize": 784, "symbolStrokeWidth": 1.5, "clipHeight": 12, "labelOffset": 6}},
           "order": [{"field": "x"}, {"field": "y"}]
         }},
        {"data": {"values": [{"t": "D"}]}, "mark": {"type": "text", "fontSize": 18, "fontWeight": "bold", "color": "#111"},
         "encoding": {"x": {"datum": -0.274, "type": "quantitative", "scale": {"domain": [-0.052, 1.053], "nice": false, "zero": false}, "title": "1 - specificity"}, "y": {"datum": -0.154, "type": "quantitative", "scale": {"domain": [-0.052, 1.053], "nice": false, "zero": false}, "title": "sensitivity"}, "text": {"field": "t"}}}
      ]
    }
  ],
  "resolve": {"scale": {"color": "independent", "shape": "independent"}, "legend": {"color": "independent", "shape": "independent"}}
}
